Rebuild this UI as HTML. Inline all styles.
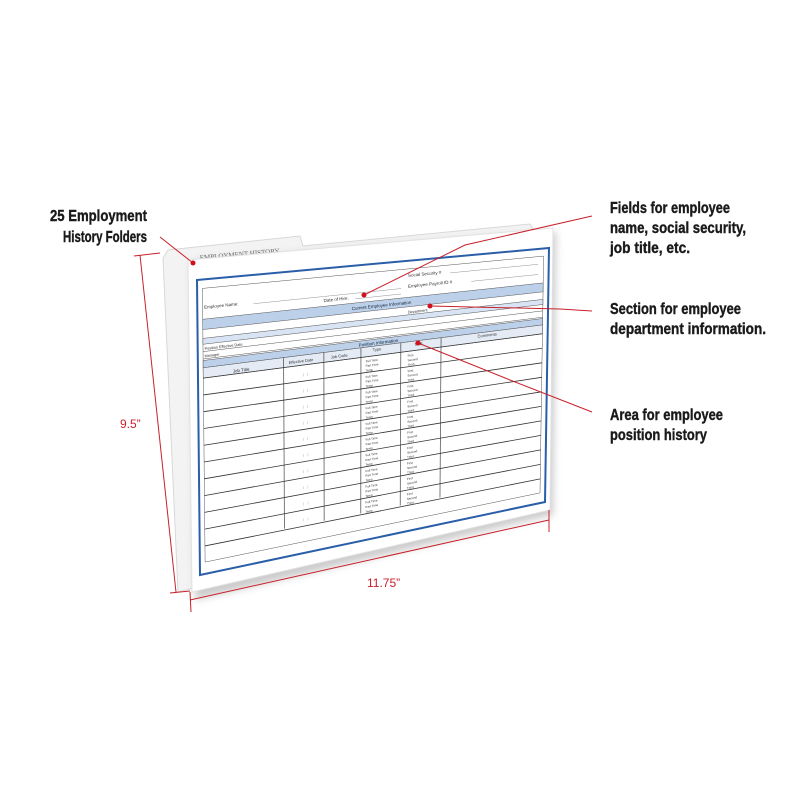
<!DOCTYPE html>
<html><head><meta charset="utf-8"><style>
html,body{margin:0;padding:0;background:#fff;width:800px;height:800px;overflow:hidden}
svg{display:block}
.lb{font-family:"Liberation Sans",sans-serif;font-weight:bold;font-size:16px;fill:#1a1a1a;stroke:#1a1a1a;stroke-width:0.4}
</style></head><body>
<svg id="s" width="800" height="800" viewBox="0 0 800 800" xmlns="http://www.w3.org/2000/svg">
<defs>
<filter id="sh" x="-10%" y="-10%" width="130%" height="130%"><feGaussianBlur stdDeviation="4"/></filter>
</defs>
<polygon points="163,258 168,250 300,236 303,246 530,224 535,232 536,500 178,592" fill="#f3f3f3" stroke="#d8d8d8" stroke-width="1"/>
<text x="200" y="260" font-family="Liberation Serif,serif" font-size="7" fill="#666" transform="rotate(-5 200 260)">EMPLOYMENT HISTORY</text>
<polygon points="192,262 556,232 553,515 195,600" fill="#999" opacity="0.5" filter="url(#sh)"/>
<polygon points="188,260 553,228 550,510 192,592" fill="#fff" stroke="#e2e2e2"/>
<g id="form"></g>
<g stroke="#c8202a" stroke-width="1" fill="none">
<line x1="140" y1="255" x2="176" y2="592"/>
<line x1="134" y1="256" x2="160" y2="253"/>
<line x1="170" y1="593" x2="190" y2="591"/>
<line x1="190" y1="600" x2="549" y2="520"/>
<line x1="190" y1="592" x2="191" y2="612"/>
<line x1="549" y1="510" x2="549" y2="532"/>
<polyline points="160,237 193,263"/>
<polyline points="364,295 465,245 592,216"/>
<polyline points="430,306 560,309 592,311"/>
<polyline points="418,343 510,380 592,412"/>
</g>
<g fill="#d0101c">
<circle cx="193" cy="263" r="2.5"/><circle cx="364" cy="295" r="2.5"/>
<circle cx="430" cy="306" r="2.5"/><circle cx="418" cy="343" r="2.5"/>
</g>
<text x="120" y="428" font-family="Liberation Sans,sans-serif" font-size="12" fill="#c8202a">9.5”</text>
<text x="367" y="587" font-family="Liberation Sans,sans-serif" font-size="12" fill="#c8202a">11.75”</text>
<text class="lb" x="50" y="221" textLength="97" lengthAdjust="spacingAndGlyphs">25 Employment</text>
<text class="lb" x="63" y="242" textLength="84" lengthAdjust="spacingAndGlyphs">History Folders</text>
<text class="lb" x="610" y="213" textLength="120" lengthAdjust="spacingAndGlyphs">Fields for employee</text>
<text class="lb" x="610" y="233" textLength="136" lengthAdjust="spacingAndGlyphs">name, social security,</text>
<text class="lb" x="610" y="253" textLength="80" lengthAdjust="spacingAndGlyphs">job title, etc.</text>
<text class="lb" x="610" y="314" textLength="131" lengthAdjust="spacingAndGlyphs">Section for employee</text>
<text class="lb" x="610" y="334" textLength="156" lengthAdjust="spacingAndGlyphs">department information.</text>
<text class="lb" x="610" y="420" textLength="113" lengthAdjust="spacingAndGlyphs">Area for employee</text>
<text class="lb" x="610" y="440" textLength="97" lengthAdjust="spacingAndGlyphs">position history</text>
</svg>
<script>
(function(){
var g=document.getElementById('form'),h='';
function P(u,t){var lx=197+3*t,ly=280+295*t,rx=549-4*t,ry=248+254*t;return [lx+u*(rx-lx),ly+u*(ry-ly)];}
function pt(u,t){var p=P(u,t);return p[0].toFixed(1)+','+p[1].toFixed(1);}
function quad(u0,u1,t0,t1,fill){h+='<polygon points="'+pt(u0,t0)+' '+pt(u1,t0)+' '+pt(u1,t1)+' '+pt(u0,t1)+'" fill="'+fill+'" stroke="#555" stroke-width="0.5"/>';}
function ln(u0,t0,u1,t1,c,w){var a=P(u0,t0),b=P(u1,t1);h+='<line x1="'+a[0]+'" y1="'+a[1]+'" x2="'+b[0]+'" y2="'+b[1]+'" stroke="'+(c||'#444')+'" stroke-width="'+(w||0.6)+'"/>';}
function tx(u,t,s,sz,c){var p=P(u,t);var ang=Math.atan2(-32+(254-295)*t,352)*180/Math.PI;h+='<text x="'+p[0]+'" y="'+p[1]+'" font-family="Liberation Sans,sans-serif" font-size="'+(sz||4.5)+'" fill="'+(c||'#333')+'" transform="rotate('+ang.toFixed(2)+' '+p[0]+' '+p[1]+')">'+s+'</text>';}
h+='<polygon points="'+pt(0,0)+' '+pt(1,0)+' '+pt(1,1)+' '+pt(0,1)+'" fill="none" stroke="#2a5ea8" stroke-width="2"/>';
h+='<polygon points="'+pt(0.015,0.03)+' '+pt(0.985,0.03)+' '+pt(0.985,0.96)+' '+pt(0.015,0.96)+'" fill="none" stroke="#555" stroke-width="0.5"/>';
tx(0.6,0.06,'Social Security #',4.5);ln(0.72,0.06,0.97,0.06,'#777',0.4);
tx(0.02,0.1,'Employee Name:',4.5);ln(0.16,0.1,0.58,0.1,'#777',0.4);
tx(0.36,0.12,'Date of Hire:',4.5);ln(0.45,0.12,0.58,0.12,'#777',0.4);
tx(0.6,0.1,'Employee Payroll ID #',4.5);ln(0.78,0.1,0.97,0.1,'#777',0.4);
tx(0.02,0.165,'Job Title:',4.5);ln(0.08,0.165,0.6,0.165,'#777',0.4);
quad(0.015,0.985,0.135,0.17,'#bcd0ea');
tx(0.44,0.16,'Current Employee Information',4.5,'#123');
quad(0.015,0.985,0.2,0.22,'#d8e4f3');
tx(0.6,0.195,'Department',3.8);
tx(0.02,0.24,'Position Effective Date',3.8);ln(0.015,0.245,0.985,0.245,'#555',0.5);
tx(0.02,0.265,'Manager',3.8);ln(0.015,0.27,0.985,0.27,'#555',0.5);
quad(0.015,0.985,0.275,0.3,'#bcd0ea');
tx(0.46,0.295,'Position Information',4.5,'#123');
quad(0.015,0.985,0.3,0.335,'#e4ebf5');
tx(0.1,0.33,'Job Title',4.5);tx(0.26,0.325,'Effective Date',4);tx(0.38,0.325,'Job Code',4);
tx(0.5,0.318,'Type',4);tx(0.62,0.318,'Shift',4);tx(0.8,0.318,'Comments',4);
[0.245,0.36,0.466,0.58,0.695].forEach(function(u){ln(u,0.3,u,0.9,'#444',0.7);});
for(var i=0;i<11;i++){var t=0.335+i*0.057;ln(0.015,t,0.985,t,'#333',0.8);
 if(i<10){tx(0.48,t+0.02,'Full Time',3);tx(0.48,t+0.037,'Part Time',3);tx(0.48,t+0.054,'Temp',3);
 tx(0.6,t+0.02,'First',3);tx(0.6,t+0.037,'Second',3);tx(0.6,t+0.054,'Third',3);
 tx(0.3,t+0.04,'/ &#160; /',4,'#999');}}
g.innerHTML=h;
})();
</script>
</body></html>
